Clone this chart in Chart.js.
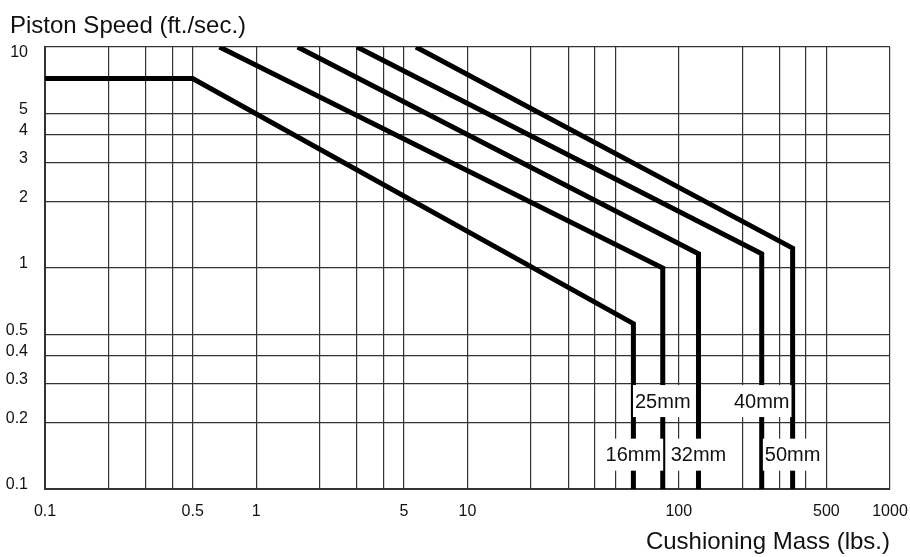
<!DOCTYPE html>
<html>
<head>
<meta charset="utf-8">
<script src="https://cdn.jsdelivr.net/npm/chart.js@4/dist/chart.umd.min.js"></script>
<style>
  html, body { margin: 0; padding: 0; background: #fff; }
  canvas { display: block; }
</style>
</head>
<body>
<canvas id="chart" width="910" height="557"></canvas>
<script>
// bore sizes and their curves (mass in lbs, speed in ft/sec)
const sizes = ["16mm", "25mm", "32mm", "40mm", "50mm"];
const mass16 = [0.1, 0.5, 61, 61];
const speed16 = [7.2, 7.2, 0.56, 0.1];
const mass25 = [0.67, 84, 84];
const speed25 = [10, 1, 0.1];
const mass32 = [1.57, 124, 124];
const speed32 = [10, 1.16, 0.1];
const mass40 = [3, 247, 247];
const speed40 = [10, 1.16, 0.1];
const mass50 = [5.7, 346, 346];
const speed50 = [10, 1.23, 0.1];
// where the size tags sit on each vertical line
const tagMass = [61, 84, 124, 247, 346];
const tagSpeed = [0.143, 0.25, 0.143, 0.25, 0.143];

const xGrid = [0.1, 0.2, 0.3, 0.4, 0.5, 1, 2, 3, 4, 5, 10, 20, 30, 40, 50, 100, 200, 300, 400, 500, 1000];
const xLabels = [0.1, 0.5, 1, 5, 10, 100, 500, 1000];
const yGrid = [0.1, 0.2, 0.3, 0.4, 0.5, 1, 2, 3, 4, 5, 10];
const yLabels = [0.1, 0.2, 0.3, 0.4, 0.5, 1, 2, 3, 4, 5, 10];

const FONT = "'Liberation Sans', Arial, Helvetica, sans-serif";

const masses = [mass16, mass25, mass32, mass40, mass50];
const speeds = [speed16, speed25, speed32, speed40, speed50];

const datasets = sizes.map((s, i) => ({
    label: s,
    data: masses[i].map((m, j) => ({x: m, y: speeds[i][j]})),
    borderColor: "#000",
    borderWidth: 5,
    pointRadius: 0,
    fill: false,
    tension: 0,
    borderJoinStyle: "miter",
    borderCapStyle: "butt"
}));

const tagsPlugin = {
    id: "tags",
    afterDatasetsDraw(chart) {
        const ctx = chart.ctx;
        const xs = chart.scales.x;
        const ys = chart.scales.y;
        ctx.save();
        ctx.font = "20px " + FONT;
        ctx.textAlign = "center";
        ctx.textBaseline = "middle";
        sizes.forEach((s, i) => {
            const px = xs.getPixelForValue(tagMass[i]);
            const py = ys.getPixelForValue(tagSpeed[i]);
            const w = ctx.measureText(s).width;
            ctx.fillStyle = "#fff";
            ctx.fillRect(px - w / 2 - 2, py - 16, w + 4, 32);
            ctx.fillStyle = "#111";
            ctx.fillText(s, px, py + 1);
        });
        ctx.restore();
    },
    afterDraw(chart) {
        const ctx = chart.ctx;
        ctx.save();
        ctx.font = "24px " + FONT;
        ctx.fillStyle = "#111";
        ctx.textAlign = "left";
        ctx.textBaseline = "alphabetic";
        ctx.fillText("Piston Speed (ft./sec.)", 10, 33);
        ctx.restore();
    }
};

new Chart(document.getElementById("chart"), {
    type: "line",
    data: { datasets: datasets },
    plugins: [tagsPlugin],
    options: {
        responsive: false,
        animation: false,
        devicePixelRatio: 1,
        layout: { padding: { top: 47, right: 20, bottom: 0, left: 0 } },
        plugins: {
            legend: { display: false },
            tooltip: { enabled: false }
        },
        scales: {
            x: {
                type: "logarithmic",
                min: 0.1,
                max: 1000,
                afterBuildTicks: s => { s.ticks = xGrid.map(v => ({value: v})); },
                afterFit: s => { s.height = 68; s.paddingLeft = 0; s.paddingRight = 0; },
                grid: { color: "#333", lineWidth: 1.2, drawTicks: false },
                border: { color: "#333", width: 2 },
                ticks: {
                    autoSkip: false,
                    maxRotation: 0,
                    padding: 13,
                    color: "#111",
                    font: { family: FONT, size: 16 },
                    callback: v => xLabels.includes(v) ? String(v) : ""
                },
                title: {
                    display: true,
                    text: "Cushioning Mass (lbs.)",
                    align: "end",
                    color: "#111",
                    font: { family: FONT, size: 24 },
                    padding: { top: 0, bottom: 0 }
                }
            },
            y: {
                type: "logarithmic",
                min: 0.1,
                max: 10,
                afterBuildTicks: s => { s.ticks = yGrid.map(v => ({value: v})); },
                afterFit: s => { s.width = 45; s.paddingTop = 0; s.paddingBottom = 0; },
                grid: { color: "#333", lineWidth: 1.2, drawTicks: false },
                border: { color: "#333", width: 2 },
                ticks: {
                    autoSkip: false,
                    padding: 17,
                    labelOffset: -4,
                    color: "#111",
                    font: { family: FONT, size: 16 },
                    // top label sits just under the frame, as in the original
                    callback: v => !yLabels.includes(v) ? "" : (v === 10 ? ["", "10"] : String(v))
                }
            }
        }
    }
});
</script>
</body>
</html>
